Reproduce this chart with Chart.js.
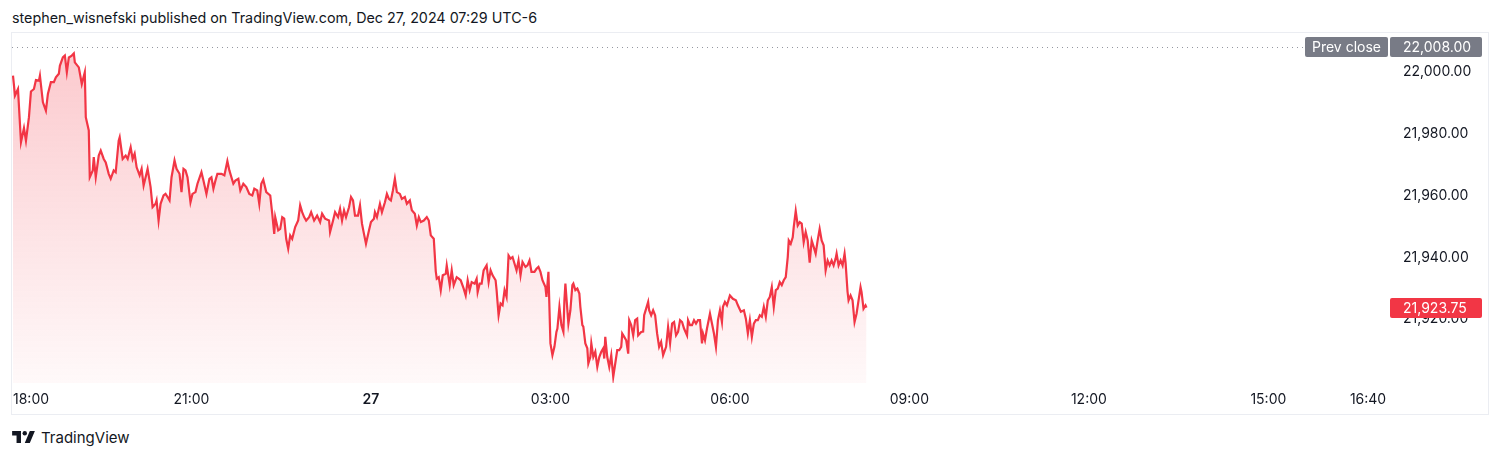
<!DOCTYPE html>
<html>
<head>
<meta charset="utf-8">
<title>NQ – TradingView snapshot</title>
<script src="https://cdn.jsdelivr.net/npm/chart.js@4.4.1/dist/chart.umd.min.js"></script>
<style>
  html, body { margin: 0; padding: 0; background: #fff; }
  body {
    width: 1500px; height: 457px; position: relative; overflow: hidden;
    font-family: Inter, "Noto Sans", sans-serif; color: #131722;
  }
  #title { position: absolute; left: 12px; top: 9px; font-size: 14.3px; line-height: 18px; }
  #frame { position: absolute; left: 11px; top: 32px; width: 1476px; height: 381px; border: 1px solid #ebedf2; }
  #footer { position: absolute; left: 12px; top: 427px; height: 20px; display: flex; align-items: center; font-size: 15px; }
  #footer svg { margin-right: 6px; }
</style>
</head>
<body>
<div id="title">stephen_wisnefski published on TradingView.com, Dec 27, 2024 07:29 UTC-6</div>
<div id="frame"><canvas id="priceChart"></canvas></div>
<div id="footer">
  <svg width="23" height="12" viewBox="0 0 36 19"><path d="M14 19H7V7H0V0h14v19zM28 19h-8L28 0h8l-8 19z" fill="#131722"/><circle cx="20" cy="3.5" r="3.5" fill="#131722"/></svg>
  <span>TradingView</span>
</div>

<script>
// minutes after the 18:00 session open
const minutes = [
  1, 3, 6, 9, 12, 14, 17, 19, 22, 24, 27, 28, 31, 34, 36, 39, 42, 44, 47, 48,
  51, 53, 55, 57, 60, 62, 63, 67, 70, 73, 74, 77, 78, 81, 82, 84, 87, 89, 92, 94,
  97, 99, 102, 104, 107, 108, 111, 114, 116, 119, 121, 123, 125, 128, 130, 132, 134, 136, 139, 141,
  144, 145, 147, 149, 152, 154, 156, 158, 160, 163, 165, 168, 170, 172, 174, 176, 179, 181, 184, 186,
  190, 192, 195, 198, 200, 202, 204, 206, 210, 213, 216, 218, 222, 224, 227, 229, 232, 235, 238, 241,
  243, 246, 248, 250, 252, 255, 259, 261, 263, 264, 267, 269, 271, 273, 275, 277, 279, 281, 284, 287,
  289, 291, 293, 295, 298, 300, 303, 306, 309, 311, 314, 318, 319, 322, 324, 327, 329, 331, 333, 335,
  338, 340, 342, 344, 347, 349, 351, 353, 355, 358, 360, 363, 364, 366, 369, 371, 374, 376, 378, 380,
  382, 384, 386, 389, 391, 394, 396, 399, 401, 404, 406, 408, 410, 413, 416, 418, 420, 423, 425, 426,
  428, 430, 432, 435, 436, 439, 441, 443, 446, 448, 450, 453, 455, 457, 459, 461, 464, 466, 467, 469,
  471, 473, 476, 478, 480, 482, 485, 486, 488, 490, 492, 494, 496, 498, 500, 502, 505, 506, 508, 510,
  512, 515, 517, 519, 521, 524, 526, 528, 530, 532, 535, 536, 538, 540, 542, 544, 546, 547, 549, 551,
  553, 554, 555, 557, 558, 560, 562, 563, 565, 567, 569, 570, 572, 573, 575, 577, 578, 580, 581, 583,
  585, 587, 589, 591, 593, 594, 595, 597, 599, 601, 603, 605, 607, 609, 611, 612, 614, 616, 618, 619,
  621, 623, 625, 627, 628, 631, 633, 634, 635, 638, 639, 641, 643, 645, 647, 649, 651, 653, 656, 658,
  660, 662, 664, 666, 668, 670, 672, 674, 677, 678, 680, 682, 684, 686, 688, 690, 692, 693, 695, 697,
  700, 702, 704, 706, 708, 710, 712, 713, 715, 717, 720, 723, 726, 728, 731, 734, 736, 738, 740, 742,
  744, 746, 748, 750, 752, 754, 756, 758, 760, 762, 764, 766, 768, 770, 772, 774, 776, 778, 779, 781,
  783, 784, 786, 788, 790, 792, 794, 796, 798, 800, 802, 804, 806, 808, 810, 812, 814, 816, 818, 820,
  822, 824, 826, 827, 829, 831, 833, 835, 836, 838, 839, 841, 843, 845, 847, 849, 851, 852, 854, 856,
  857
];

// last price at each of those minutes
const prices = [
  21998.7, 21992.3, 21994.4, 21977.2, 21981.8, 21977.7, 21985.3, 21993.6, 21994.4, 21997.3,
  21997.1, 21998.7, 21990.1, 21987.4, 21992.8, 21996.6, 21996.6, 21998.2, 21999.3, 22001.9,
  22004.6, 22005.2, 21999.8, 22004.6, 22005.2, 22005.9, 22003.0, 22001.4, 21996.0, 21999.8,
  21985.3, 21981.0, 21965.9, 21968.1, 21972.4, 21965.9, 21972.9, 21974.5, 21971.8, 21970.7,
  21967.0, 21965.4, 21968.1, 21967.5, 21977.7, 21978.8, 21971.8, 21972.9, 21971.8, 21975.6,
  21971.8, 21973.5, 21969.1, 21966.5, 21968.6, 21963.2, 21965.9, 21968.6, 21962.7, 21956.2,
  21957.3, 21958.4, 21951.9, 21957.3, 21960.0, 21960.5, 21959.5, 21958.4, 21965.9, 21971.3,
  21968.6, 21967.0, 21961.1, 21968.6, 21968.1, 21965.9, 21957.8, 21960.5, 21961.1, 21963.8,
  21967.5, 21964.8, 21960.5, 21965.4, 21965.9, 21962.2, 21964.8, 21967.0, 21967.0, 21966.5,
  21971.1, 21968.1, 21963.8, 21964.8, 21965.4, 21961.6, 21963.8, 21962.7, 21960.5, 21960.0,
  21962.2, 21961.6, 21957.3, 21963.8, 21965.1, 21961.1, 21960.0, 21954.1, 21947.6, 21953.0,
  21948.7, 21949.2, 21953.0, 21952.5, 21946.0, 21942.8, 21947.1, 21946.0, 21949.8, 21951.9,
  21956.8, 21954.6, 21953.0, 21951.9, 21953.0, 21954.6, 21951.9, 21953.5, 21951.4, 21954.1,
  21952.5, 21951.9, 21948.2, 21951.9, 21954.6, 21953.0, 21955.7, 21951.9, 21955.2, 21953.0,
  21956.2, 21959.5, 21958.4, 21953.5, 21953.5, 21956.8, 21950.9, 21947.6, 21944.4, 21948.7,
  21951.4, 21952.5, 21954.6, 21953.0, 21957.3, 21954.6, 21957.8, 21960.5, 21958.9, 21958.4,
  21961.6, 21965.4, 21961.1, 21960.5, 21958.9, 21959.5, 21957.3, 21958.4, 21955.2, 21954.1,
  21950.3, 21953.0, 21951.4, 21951.9, 21953.0, 21951.9, 21947.1, 21946.0, 21935.5, 21933.1,
  21933.6, 21929.4, 21934.2, 21934.7, 21937.4, 21931.0, 21935.8, 21931.0, 21933.6, 21933.1,
  21932.6, 21929.9, 21927.7, 21932.6, 21929.4, 21932.0, 21931.5, 21933.1, 21928.8, 21931.5,
  21931.5, 21935.8, 21937.4, 21932.0, 21935.8, 21934.2, 21932.6, 21929.4, 21921.3, 21925.1,
  21924.5, 21929.4, 21927.2, 21940.6, 21939.6, 21940.1, 21936.9, 21935.8, 21939.0, 21934.2,
  21938.5, 21936.9, 21937.4, 21939.0, 21935.3, 21935.3, 21936.3, 21936.9, 21935.3, 21932.6,
  21930.4, 21927.2, 21935.3, 21912.2, 21908.4, 21911.1, 21915.9, 21917.0, 21924.0, 21918.1,
  21915.9, 21926.1, 21931.5, 21922.9, 21918.6, 21922.9, 21931.0, 21931.5, 21929.4, 21929.9,
  21928.3, 21924.0, 21918.1, 21917.6, 21912.2, 21910.6, 21905.7, 21907.8, 21912.2, 21907.8,
  21909.5, 21904.6, 21907.8, 21909.5, 21910.6, 21907.3, 21914.3, 21907.8, 21904.6, 21908.4,
  21901.4, 21905.7, 21910.0, 21910.0, 21911.1, 21915.4, 21914.3, 21913.2, 21908.9, 21919.7,
  21918.1, 21914.8, 21919.7, 21920.2, 21914.8, 21915.9, 21916.0, 21921.3, 21922.4, 21925.6,
  21922.9, 21921.3, 21922.9, 21921.3, 21915.4, 21911.1, 21912.7, 21908.4, 21911.1, 21917.5,
  21912.2, 21918.6, 21919.1, 21914.8, 21915.9, 21919.7, 21919.1, 21917.0, 21914.8, 21919.7,
  21918.1, 21918.1, 21919.7, 21918.6, 21919.7, 21919.7, 21912.2, 21915.4, 21913.2, 21917.0,
  21921.8, 21918.6, 21915.4, 21911.1, 21919.7, 21922.9, 21919.1, 21924.0, 21925.6, 21924.5,
  21927.7, 21926.6, 21926.1, 21924.5, 21922.4, 21922.9, 21920.2, 21915.4, 21919.7, 21914.3,
  21918.6, 21919.7, 21919.7, 21921.3, 21920.8, 21924.0, 21920.8, 21926.1, 21927.2, 21930.4,
  21924.0, 21929.4, 21929.9, 21932.0, 21931.0, 21932.6, 21933.6, 21940.1, 21945.5, 21944.4,
  21946.5, 21949.8, 21955.0, 21950.3, 21951.4, 21950.9, 21944.9, 21948.2, 21945.5, 21938.3,
  21945.5, 21943.4, 21941.2, 21945.5, 21949.2, 21945.5, 21943.9, 21935.8, 21939.0, 21937.4,
  21939.0, 21937.4, 21939.6, 21941.2, 21937.4, 21939.0, 21937.4, 21941.2, 21938.3, 21928.8,
  21926.1, 21927.7, 21926.1, 21919.1, 21921.8, 21926.1, 21930.4, 21928.8, 21923.4, 21924.5,
  21923.75
];

// axes
const timeTicks  = [0, 180, 360, 540, 720, 900, 1080, 1260, 1360];
const timeLabels = ['18:00', '21:00', '27', '03:00', '06:00', '09:00', '12:00', '15:00', '16:40'];
const priceTicks = [21920, 21940, 21960, 21980, 22000];

const prevClose = 22008.00;
const lastPrice = 21923.75;

const FONT = 'Inter, "Noto Sans", sans-serif';
const RED  = '#f23645';
const fmt  = v => v.toLocaleString('en-US', { minimumFractionDigits: 2, maximumFractionDigits: 2 });

// petit plugin pour les étiquettes façon TradingView
const tvOverlay = {
  id: 'tvOverlay',
  afterDraw(chart) {
    const { ctx, chartArea, scales } = chart;
    const x = scales.x, y = scales.y;

    ctx.save();

    // ligne pointillée "Prev close"
    const yPrev = y.getPixelForValue(prevClose);
    ctx.strokeStyle = '#9598a1';
    ctx.lineWidth = 1;
    ctx.setLineDash([1, 4]);
    ctx.beginPath();
    ctx.moveTo(chartArea.left, Math.round(yPrev) + 0.5);
    ctx.lineTo(chartArea.right - 84, Math.round(yPrev) + 0.5);
    ctx.stroke();
    ctx.setLineDash([]);

    ctx.font = '14px ' + FONT;
    ctx.textBaseline = 'middle';

    const box = (x0, w, yc, color, text, align) => {
      ctx.fillStyle = color;
      ctx.beginPath();
      ctx.roundRect(x0, Math.round(yc) - 10, w, 20, 2);
      ctx.fill();
      ctx.fillStyle = '#ffffff';
      ctx.textAlign = align;
      ctx.fillText(text, align === 'center' ? x0 + w / 2 : x0 + 13, Math.round(yc) + 1);
    };

    box(chartArea.right - 83, 83, yPrev, '#787b86', 'Prev close', 'center');
    box(chartArea.right + 2, 92, yPrev, '#787b86', fmt(prevClose), 'left');
    box(chartArea.right + 2, 92, y.getPixelForValue(lastPrice), RED, fmt(lastPrice), 'left');

    // étiquettes de l'axe du temps
    ctx.fillStyle = '#131722';
    ctx.textAlign = 'left';
    const yLab = chartArea.bottom + 17;
    timeTicks.forEach((m, i) => {
      ctx.font = (timeLabels[i] === '27' ? '600 ' : '') + '14px ' + FONT;
      const w = ctx.measureText(timeLabels[i]).width;
      const left = Math.max(x.getPixelForValue(m) - w / 2, 1);
      ctx.fillText(timeLabels[i], left, yLab);
    });

    ctx.restore();
  }
};

new Chart(document.getElementById('priceChart'), {
  type: 'line',
  data: {
    datasets: [{
      data: minutes.map((m, i) => ({ x: m, y: prices[i] })),
      borderColor: RED,
      borderWidth: 2.2,
      pointRadius: 0,
      tension: 0,
      fill: 'start',
      backgroundColor: (c) => {
        const area = c.chart.chartArea;
        if (!area) return 'rgba(242,54,69,0.15)';
        const g = c.chart.ctx.createLinearGradient(0, area.top, 0, area.bottom);
        g.addColorStop(0, 'rgba(242,54,69,0.28)');
        g.addColorStop(1, 'rgba(242,54,69,0.03)');
        return g;
      }
    }]
  },
  options: {
    responsive: true,
    maintainAspectRatio: false,
    animation: false,
    layout: { padding: 0 },
    plugins: { legend: { display: false }, tooltip: { enabled: false } },
    scales: {
      x: {
        type: 'linear',
        min: 0,
        max: 1380,
        grid: { display: false },
        border: { display: false },
        ticks: { display: false },
        afterFit: (s) => { s.height = 31; s.paddingLeft = 0; s.paddingRight = 0; }
      },
      y: {
        position: 'right',
        min: 21899.4,
        max: 22012.5,
        grid: { display: false, drawTicks: false },
        border: { display: false },
        afterBuildTicks: (s) => { s.ticks = priceTicks.map(v => ({ value: v })); },
        afterFit: (s) => { s.width = 100; s.paddingTop = 0; s.paddingBottom = 0; },
        ticks: {
          padding: 15,
          color: '#131722',
          font: { family: FONT, size: 14 },
          callback: (v) => fmt(v)
        }
      }
    }
  },
  plugins: [tvOverlay]
});
</script>
</body>
</html>
